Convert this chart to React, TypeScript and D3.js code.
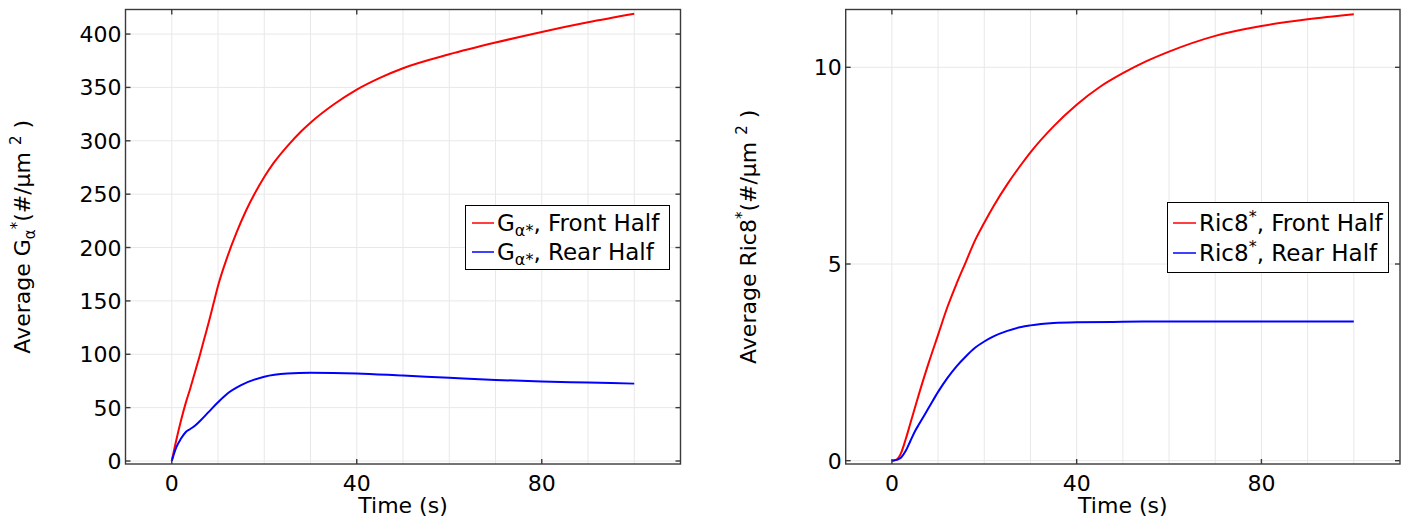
import React from "react";
import * as d3 from "d3";

// ---- Data ----
const leftTime = [0, 1, 2, 3, 4, 5, 6, 7, 8, 9, 10, 12, 14, 16, 18, 20, 22, 25, 28, 30, 35, 40, 45, 50, 60, 70, 80, 90, 100];
const leftFront = [0, 20, 38, 54, 68, 83, 98, 114, 130, 147, 164, 191, 214, 234, 251, 266, 279, 295, 309, 317, 334, 348, 359, 368, 381, 392, 402, 411, 419];
const leftRearTime = [0, 1, 2, 3, 4, 5, 6, 8, 10, 12, 15, 20, 25, 30, 40, 50, 60, 70, 80, 90, 100];
const leftRear = [0, 13, 21, 27, 30, 33, 37, 46, 55, 63, 71, 79, 82, 82.7, 82, 80, 78, 76, 74.5, 73.5, 72.5];

const rightFrontTime = [0, 1, 2, 3, 4, 5, 6, 8, 10, 12, 14, 16, 18, 20, 22, 25, 28, 30, 35, 40, 45, 50, 55, 60, 70, 80, 90, 100];
const rightFront = [0, 0.03, 0.2, 0.55, 0.95, 1.35, 1.75, 2.5, 3.2, 3.9, 4.5, 5.05, 5.6, 6.05, 6.47, 7.03, 7.53, 7.84, 8.5, 9.05, 9.5, 9.85, 10.15, 10.4, 10.8, 11.05, 11.22, 11.35];
const rightRearTime = [0, 1, 2, 3, 4, 5, 6, 7, 8, 10, 12, 14, 16, 18, 20, 22, 25, 28, 30, 35, 40, 50, 60, 80, 100];
const rightRear = [0, 0.02, 0.08, 0.25, 0.5, 0.75, 0.95, 1.15, 1.35, 1.75, 2.1, 2.4, 2.65, 2.87, 3.03, 3.16, 3.3, 3.4, 3.44, 3.5, 3.52, 3.53, 3.54, 3.54, 3.54];

const xTicks = [0, 40, 80];
const xGrid = [0, 10, 20, 30, 40, 50, 60, 70, 80, 90, 100];
const leftYTicks = [0, 50, 100, 150, 200, 250, 300, 350, 400];
const rightYTicks = [0, 5, 10];

const FONT = "DejaVu Sans, sans-serif";
const RED = "#ff0000";
const BLUE = "#0000ff";

type Series = { t: number[]; v: number[]; color: string };

function Panel(props: {
  x0: number; x1: number; y0: number; y1: number;
  yDomain: [number, number]; yTicks: number[];
  series: Series[];
  yLabel: React.ReactNode; yLabelX: number;
  legend: React.ReactNode;
}) {
  const { x0, x1, y0, y1, yDomain, yTicks, series } = props;
  const x = d3.scaleLinear().domain([-10, 110]).range([x0, x1]);
  const y = d3.scaleLinear().domain(yDomain).range([y1, y0]);
  const line = d3.line<[number, number]>().x(d => x(d[0])).y(d => y(d[1])).curve(d3.curveMonotoneX);
  const tl = 5;
  const frame = "#3a3a3a";
  return (
    <g>
      {xGrid.map(g => (
        <line key={"xg" + g} x1={x(g)} x2={x(g)} y1={y0} y2={y1} stroke="#e8e8e8" strokeWidth={1} />
      ))}
      {yTicks.map(g => (
        <line key={"yg" + g} x1={x0} x2={x1} y1={y(g)} y2={y(g)} stroke="#e8e8e8" strokeWidth={1} />
      ))}
      {series.map((s, i) => (
        <path key={i} d={line(s.t.map((t, j) => [t, s.v[j]] as [number, number])) || ""} fill="none" stroke={s.color} strokeWidth={2} />
      ))}
      <rect x={x0} y={y0} width={x1 - x0} height={y1 - y0} fill="none" stroke={frame} strokeWidth={1.4} />
      {xTicks.map(t => (
        <g key={"xt" + t}>
          <line x1={x(t)} x2={x(t)} y1={y1} y2={y1 - tl} stroke={frame} strokeWidth={1.4} />
          <line x1={x(t)} x2={x(t)} y1={y0} y2={y0 + tl} stroke={frame} strokeWidth={1.4} />
          <text x={x(t)} y={491} textAnchor="middle" fontFamily={FONT} fontSize={22} fill="#000">{t}</text>
        </g>
      ))}
      {yTicks.map(t => (
        <g key={"yt" + t}>
          <line x1={x0} x2={x0 + tl} y1={y(t)} y2={y(t)} stroke={frame} strokeWidth={1.4} />
          <line x1={x1} x2={x1 - tl} y1={y(t)} y2={y(t)} stroke={frame} strokeWidth={1.4} />
          <text x={x0 - 4} y={y(t) + 8} textAnchor="end" fontFamily={FONT} fontSize={22} fill="#000">{t}</text>
        </g>
      ))}
      <text x={(x0 + x1) / 2} y={513} textAnchor="middle" fontFamily={FONT} fontSize={22} fill="#000">Time (s)</text>
      <text transform={`translate(${props.yLabelX},${(y0 + y1) / 2}) rotate(-90)`} textAnchor="middle" fontFamily={FONT} fontSize={22} fill="#000">
        {props.yLabel}
      </text>
      {props.legend}
    </g>
  );
}

function Legend(props: { x: number; y: number; w: number; h: number; rows: { color: string; label: React.ReactNode; cy: number }[]; lx0: number; lx1: number; tx: number }) {
  return (
    <g>
      <rect x={props.x} y={props.y} width={props.w} height={props.h} fill="#fff" stroke="#000" strokeWidth={1} />
      {props.rows.map((r, i) => (
        <g key={i}>
          <line x1={props.lx0} x2={props.lx1} y1={r.cy} y2={r.cy} stroke={r.color} strokeWidth={1.5} />
          <text x={props.tx} y={r.cy + 8} fontFamily={FONT} fontSize={23} fill="#000">{r.label}</text>
        </g>
      ))}
    </g>
  );
}

const gLabel = (rest: string) => (
  <>
    <tspan>G</tspan>
    <tspan fontSize={16} dy={5}>α*</tspan>
    <tspan dy={-5}>{rest}</tspan>
  </>
);
const ricLabel = (rest: string) => (
  <>
    <tspan>Ric8</tspan>
    <tspan fontSize={16} dy={-9}>*</tspan>
    <tspan dy={9}>{rest}</tspan>
  </>
);

export default function App() {
  return (
    <svg width={1406} height={519} style={{ position: "absolute", left: 0, top: 0, background: "#fff" }}>
      <Panel
        x0={125.5} x1={680.5} y0={9.5} y1={464}
        yDomain={[-2.8, 423]} yTicks={leftYTicks}
        series={[{ t: leftTime, v: leftFront, color: RED }, { t: leftRearTime, v: leftRear, color: BLUE }]}
        yLabelX={30}
        yLabel={<>
          <tspan>Average G</tspan>
          <tspan fontSize={15} dy={5}>α</tspan>
          <tspan fontSize={15} dy={-13}>*</tspan>
          <tspan dy={8}>(#/μm </tspan>
          <tspan fontSize={15} dy={-9}>2</tspan>
          <tspan dy={9}> )</tspan>
        </>}
        legend={<Legend x={465.5} y={205.5} w={204} h={64} lx0={472} lx1={494} tx={497}
          rows={[{ color: RED, label: gLabel(", Front Half"), cy: 223 }, { color: BLUE, label: gLabel(", Rear Half"), cy: 252 }]} />}
      />
      <Panel
        x0={845.7} x1={1400} y0={9.5} y1={464}
        yDomain={[-0.084, 11.47]} yTicks={rightYTicks}
        series={[{ t: rightFrontTime, v: rightFront, color: RED }, { t: rightRearTime, v: rightRear, color: BLUE }]}
        yLabelX={756}
        yLabel={<>
          <tspan>Average Ric8</tspan>
          <tspan fontSize={15} dy={-9}>*</tspan>
          <tspan dy={9}>(#/μm </tspan>
          <tspan fontSize={15} dy={-9}>2</tspan>
          <tspan dy={9}> )</tspan>
        </>}
        legend={<Legend x={1167.5} y={202.5} w={221} h={70} lx0={1173} lx1={1196} tx={1199}
          rows={[{ color: RED, label: ricLabel(", Front Half"), cy: 223 }, { color: BLUE, label: ricLabel(", Rear Half"), cy: 253 }]} />}
      />
    </svg>
  );
}
